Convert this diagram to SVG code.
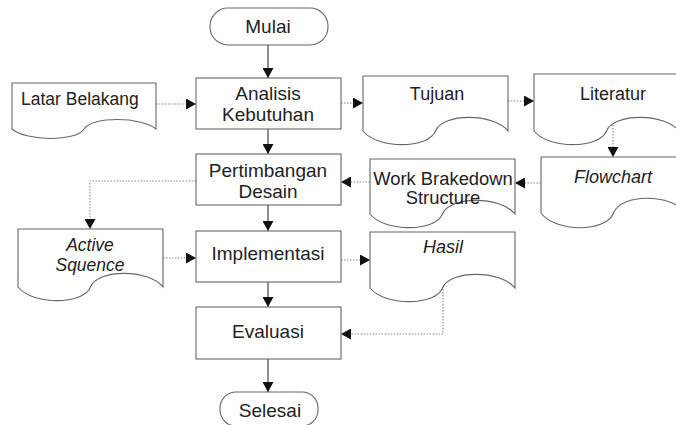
<svg xmlns="http://www.w3.org/2000/svg" width="676" height="425" viewBox="0 0 676 425">
<defs>
<marker id="ah" markerUnits="userSpaceOnUse" markerWidth="10" markerHeight="11" refX="10" refY="5.5" orient="auto">
<path d="M0,0 L10,5.5 L0,11 Z" fill="#111"/>
</marker>
<style>
.box{fill:#fff;stroke:#666;stroke-width:1.1}
.doc{fill:#fff;stroke:#666;stroke-width:1.1}
.t{font-family:"Liberation Sans",Arial,sans-serif;font-size:19px;fill:#222;text-anchor:middle}
.d{font-size:18px}
.i{font-style:italic}
.solid{fill:none;stroke:#444;stroke-width:1.2;marker-end:url(#ah)}
.dot{fill:none;stroke:#888;stroke-width:1.1;stroke-dasharray:1.5 1.5;marker-end:url(#ah)}
</style>
</defs>
<rect width="676" height="425" fill="#fff"/>
<g id="connectors">
<line class="solid" x1="268" y1="45" x2="268" y2="78"/>
<line class="solid" x1="268" y1="129" x2="268" y2="154"/>
<line class="solid" x1="268" y1="205" x2="268" y2="231"/>
<line class="solid" x1="268" y1="282" x2="268" y2="307"/>
<line class="solid" x1="268" y1="359" x2="268" y2="392"/>
<line class="dot" x1="156" y1="104" x2="196" y2="104"/>
<line class="dot" x1="341" y1="103" x2="363" y2="103"/>
<line class="dot" x1="508" y1="101" x2="534" y2="101"/>
<line class="dot" x1="613" y1="122" x2="613" y2="157"/>
<line class="dot" x1="541" y1="183" x2="515" y2="183"/>
<line class="dot" x1="370" y1="182" x2="341" y2="182"/>
<polyline class="dot" points="196,181 90,181 90,229"/>
<line class="dot" x1="163" y1="258" x2="196" y2="258"/>
<line class="dot" x1="341" y1="260" x2="370" y2="260"/>
<polyline class="dot" points="443,286 443,334 341,334"/>
</g>
<g id="mulai">
<rect class="box" x="210" y="8" width="118" height="37" rx="18" ry="18"/>
<text class="t" x="268" y="33">Mulai</text>
</g>
<g id="latar-belakang">
<path class="doc" d="M12,83 H156 V129 C141.6,116.4 91.2,116.4 84,129 C76.8,141.6 26.4,141.6 12,129 Z"/>
<text class="t" x="21" y="105" style="text-anchor:start;font-size:17.5px">Latar Belakang</text>
</g>
<g id="analisis">
<rect class="box" x="196" y="78" width="145" height="51"/>
<text class="t" x="268" y="100">Analisis</text>
<text class="t" x="268" y="121">Kebutuhan</text>
</g>
<g id="tujuan">
<path class="doc" d="M363,76 H508 V131 C493.5,112.8 442.75,112.8 435.5,131 C428.25,149.2 377.5,149.2 363,131 Z"/>
<text class="t d" x="437" y="100">Tujuan</text>
</g>
<g id="literatur">
<path class="doc" d="M534,74 H679 V131 C664.5,112.8 613.75,112.8 606.5,131 C599.25,149.2 548.5,149.2 534,131 Z"/>
<text class="t d" x="613" y="100">Literatur</text>
</g>
<g id="pertimbangan">
<rect class="box" x="196" y="154" width="145" height="51"/>
<text class="t" x="268" y="177">Pertimbangan</text>
<text class="t" x="268" y="198">Desain</text>
</g>
<g id="wbs">
<path class="doc" d="M370,159 H515 V214 C500.5,195.8 449.75,195.8 442.5,214 C435.25,232.2 384.5,232.2 370,214 Z"/>
<text class="t" x="443" y="185" style="font-size:18.4px">Work Brakedown</text>
<text class="t" x="443" y="204" style="font-size:18.4px">Structure</text>
</g>
<g id="flowchart">
<path class="doc" d="M541,157 H686 V213 C671.5,193.4 620.75,193.4 613.5,213 C606.25,232.6 555.5,232.6 541,213 Z"/>
<text class="t d i" x="613" y="183">Flowchart</text>
</g>
<g id="active-squence">
<path class="doc" d="M18,229 H163 V287 C148.5,268.8 97.75,268.8 90.5,287 C83.25,305.2 32.5,305.2 18,287 Z"/>
<text class="t i" x="90" y="251" style="font-size:17.5px">Active</text>
<text class="t i" x="90" y="271" style="font-size:17.5px">Squence</text>
</g>
<g id="implementasi">
<rect class="box" x="196" y="231" width="145" height="51"/>
<text class="t" x="268" y="260">Implementasi</text>
</g>
<g id="hasil">
<path class="doc" d="M370,232 H515 V288 C500.5,269.8 449.75,269.8 442.5,288 C435.25,306.2 384.5,306.2 370,288 Z"/>
<text class="t d i" x="443" y="253">Hasil</text>
</g>
<g id="evaluasi">
<rect class="box" x="196" y="307" width="145" height="52"/>
<text class="t" x="268" y="338">Evaluasi</text>
</g>
<g id="selesai">
<rect class="box" x="220" y="392" width="98" height="34" rx="16" ry="16"/>
<text class="t" x="270" y="417">Selesai</text>
</g>
</svg>
